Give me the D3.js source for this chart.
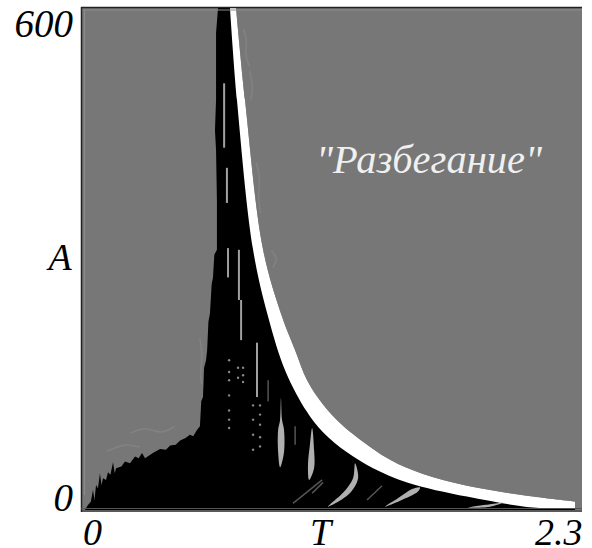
<!DOCTYPE html>
<html>
<head>
<meta charset="utf-8">
<script src="https://cdn.jsdelivr.net/npm/d3@7.9.0/dist/d3.min.js"></script>
<style>
  html, body { margin: 0; padding: 0; background: #fff; }
  text { font-family: "Liberation Serif", serif; font-style: italic; }
</style>
</head>
<body>
<div id="chart"></div>
<script>
const xTicks = [0, 2.3];
const yTicks = [0, 600];

// left side of the black region as [T, A]
const blackEdge = [[0.018,0],[0.032,6],[0.045,10],[0.055,24],[0.062,12],[0.069,30],[0.078,26],[0.087,44],[0.094,30],[0.101,38],
  [0.115,36],[0.124,45],[0.135,42],[0.147,57],[0.155,44],[0.161,50],[0.185,52],[0.202,58],[0.225,56],[0.248,64],[0.265,62],[0.280,68],
  [0.294,62],[0.330,68],[0.363,73],[0.390,72],[0.409,77],[0.435,78],[0.455,83],[0.480,86],[0.500,90],[0.515,88],[0.533,96],[0.546,100],
  [0.552,130],[0.560,135],[0.565,170],[0.574,179],[0.579,191],[0.585,225],[0.592,235],[0.600,270],[0.606,278],[0.612,305],[0.624,311],
  [0.624,370],[0.620,430],[0.615,454],[0.620,490],[0.620,570],[0.629,600]];

// white band edges
const bandOuter = [[0.712,600],[0.753,490],[0.836,311],[0.923,231],[0.983,191],[1.038,155],[1.111,126],[1.189,104],
  [1.267,87],[1.419,60],[1.570,43],[1.772,29],[2.075,16],[2.268,10]];
const bandInner = [[0.684,600],[0.716,490],[0.790,311],[0.859,231],[0.940,165],[1.038,117],[1.111,93],
  [1.221,69],[1.341,50],[1.497,33],[1.772,16],[2.075,3],[2.268,2]];

// light slivers inside the black region
const slivers = [
  [[0.918,134],[0.923,108],[0.932,96],[0.932,69],[0.914,51],[0.905,69],[0.905,96],[0.914,108]],
  [[1.061,98],[1.070,72],[1.070,50],[1.047,36],[1.042,54],[1.051,78]],
  [[1.258,56],[1.272,38],[1.230,19],[1.134,4],[1.208,22],[1.249,38]],
  [[1.556,27],[1.547,22],[1.465,11],[1.396,4],[1.455,14],[1.520,25]],
  [[1.777,3],[1.878,7],[1.938,9],[1.878,4]]
];
const thinLines = [
  [[0.657,510],[0.657,433]],
  [[0.670,409],[0.670,367]],
  [[0.675,313],[0.675,278]],
  [[0.725,311],[0.725,251]],
  [[0.735,251],[0.735,203]],
  [[0.808,200],[0.808,135]]
];
const darkStreaks = [
  [[1.107,36],[0.973,8]],
  [[1.382,29],[1.313,12]],
  [[1.111,33],[1.061,20]],
  [[0.859,155],[0.859,130]],
  [[0.983,100],[0.983,78]]
];
const speckles = [[0.680,179],[0.680,165],[0.680,155],[0.680,137],[0.680,119],[0.680,108],[0.680,98],
  [0.744,170],[0.744,161],[0.744,153],[0.721,170],[0.721,158],
  [0.790,125],[0.790,108],[0.790,90],[0.790,72],[0.822,125],[0.822,114],[0.822,102],[0.822,87],[0.822,76]];

// faint compression ripples around the edges
const ripples = [
  [[0.745,575],[0.765,560],[0.750,545],[0.775,530]],
  [[0.775,525],[0.790,505],[0.780,490]],
  [[0.805,415],[0.825,395],[0.810,375],[0.825,355]],
  [[0.875,310],[0.905,300],[0.880,290]],
  [[0.545,205],[0.560,185],[0.545,165],[0.555,150]],
  [[0.230,92],[0.300,100],[0.370,90],[0.430,100]],
  [[0.120,70],[0.200,80],[0.270,75]]
];

const width = 592, height = 548;
const x = d3.scaleLinear().domain([0, 2.3]).range([81, 582]);
const y = d3.scaleLinear().domain([0, 600]).range([510, 8]);

const svg = d3.select('#chart').append('svg')
  .attr('width', width)
  .attr('height', height)
  .style('display', 'block');

const defs = svg.append('defs');
defs.append('filter').attr('id', 'soft')
  .append('feGaussianBlur').attr('stdDeviation', 0.5);
defs.append('clipPath').attr('id', 'plot-clip')
  .append('rect').attr('x', 81).attr('y', 7).attr('width', 501).attr('height', 503);

const line = d3.line().x(d => x(d[0])).y(d => y(d[1]));
const smooth = d3.line().x(d => x(d[0])).y(d => y(d[1])).curve(d3.curveCatmullRom);
const smoothClosed = d3.line().x(d => x(d[0])).y(d => y(d[1])).curve(d3.curveCatmullRomClosed);
const ripple = d3.line().x(d => x(d[0])).y(d => y(d[1])).curve(d3.curveBasis);

svg.append('rect')
  .attr('x', 81).attr('y', 7)
  .attr('width', 501).attr('height', 503)
  .attr('fill', '#777');

const plot = svg.append('g')
  .attr('clip-path', 'url(#plot-clip)')
  .append('g')
  .attr('filter', 'url(#soft)');

ripples.forEach(r => {
  plot.append('path').attr('d', ripple(r))
    .attr('fill', 'none').attr('stroke', '#828282').attr('stroke-width', 1.5);
});

// black region: jagged left side, then along the smooth band, then down to the axis
const blackPath = line(blackEdge) + smooth(bandOuter).replace('M', 'L') + line([[2.268, 0]]).replace('M', 'L') + 'Z';
plot.append('path').attr('d', blackPath).attr('fill', '#000');

const bandPath = smooth(bandOuter) + smooth(bandInner.slice().reverse()).replace('M', 'L') + 'Z';
plot.append('path').attr('d', bandPath).attr('fill', '#fff');

thinLines.forEach(l => {
  plot.append('path').attr('d', line(l))
    .attr('fill', 'none').attr('stroke', '#a0a0a0').attr('stroke-width', 2);
});
darkStreaks.forEach(l => {
  plot.append('path').attr('d', line(l))
    .attr('fill', 'none').attr('stroke', '#555').attr('stroke-width', 1.5);
});
slivers.forEach(s => {
  plot.append('path').attr('d', smoothClosed(s)).attr('fill', '#b0b0b0');
});
plot.selectAll('circle.speck')
  .data(speckles)
  .enter().append('circle')
  .attr('class', 'speck')
  .attr('cx', d => x(d[0])).attr('cy', d => y(d[1]))
  .attr('r', 1.2)
  .attr('fill', '#888');

// frame lines
svg.append('line').attr('x1', 81).attr('x2', 582).attr('y1', 7.5).attr('y2', 7.5)
  .attr('stroke', '#222').attr('stroke-width', 1.5);
svg.append('line').attr('x1', 81).attr('x2', 582).attr('y1', 10).attr('y2', 10)
  .attr('stroke', '#8c8c8c').attr('stroke-width', 1);
svg.append('line').attr('x1', 81.5).attr('x2', 81.5).attr('y1', 7).attr('y2', 512)
  .attr('stroke', '#222').attr('stroke-width', 1.5);
svg.append('line').attr('x1', 84.5).attr('x2', 84.5).attr('y1', 10).attr('y2', 495)
  .attr('stroke', '#8c8c8c').attr('stroke-width', 1);
svg.append('line').attr('x1', 81).attr('x2', 582).attr('y1', 508.5).attr('y2', 508.5)
  .attr('stroke', '#555').attr('stroke-width', 1);
svg.append('line').attr('x1', 81).attr('x2', 582).attr('y1', 511).attr('y2', 511)
  .attr('stroke', '#222').attr('stroke-width', 1.6);

// axes, tick marks hidden
const xAxis = svg.append('g')
  .attr('transform', 'translate(0,510)')
  .call(d3.axisBottom(x).tickValues(xTicks).tickSize(0).tickFormat(d3.format('')));
xAxis.select('.domain').remove();
xAxis.selectAll('text')
  .attr('y', 0).attr('dy', 35)
  .attr('dx', d => d === 0 ? 11 : 0)
  .attr('text-anchor', d => d === 0 ? 'middle' : 'end')
  .style('font-size', '38px').style('font-family', '"Liberation Serif", serif').style('font-style', 'italic')
  .attr('fill', '#000');

const yAxis = svg.append('g')
  .attr('transform', 'translate(81,0)')
  .call(d3.axisLeft(y).tickValues(yTicks).tickSize(0).tickFormat(d3.format('')));
yAxis.select('.domain').remove();
yAxis.selectAll('text')
  .attr('x', -8).attr('dy', 0)
  .attr('y', d => d === 0 ? 0 : 28)
  .attr('text-anchor', 'end')
  .style('font-size', '39px').style('font-family', '"Liberation Serif", serif').style('font-style', 'italic')
  .attr('fill', '#000');

svg.append('text').attr('x', x(1.1)).attr('y', 545)
  .attr('text-anchor', 'middle').style('font-size', '38px').attr('fill', '#000').text('T');
svg.append('text').attr('x', 60).attr('y', 270)
  .attr('text-anchor', 'middle').style('font-size', '38px').attr('fill', '#000').text('A');

svg.append('text').attr('x', 316).attr('y', 173)
  .style('font-size', '40.5px').attr('fill', '#f0f0f0').text('"Разбегание"');
</script>
</body>
</html>
